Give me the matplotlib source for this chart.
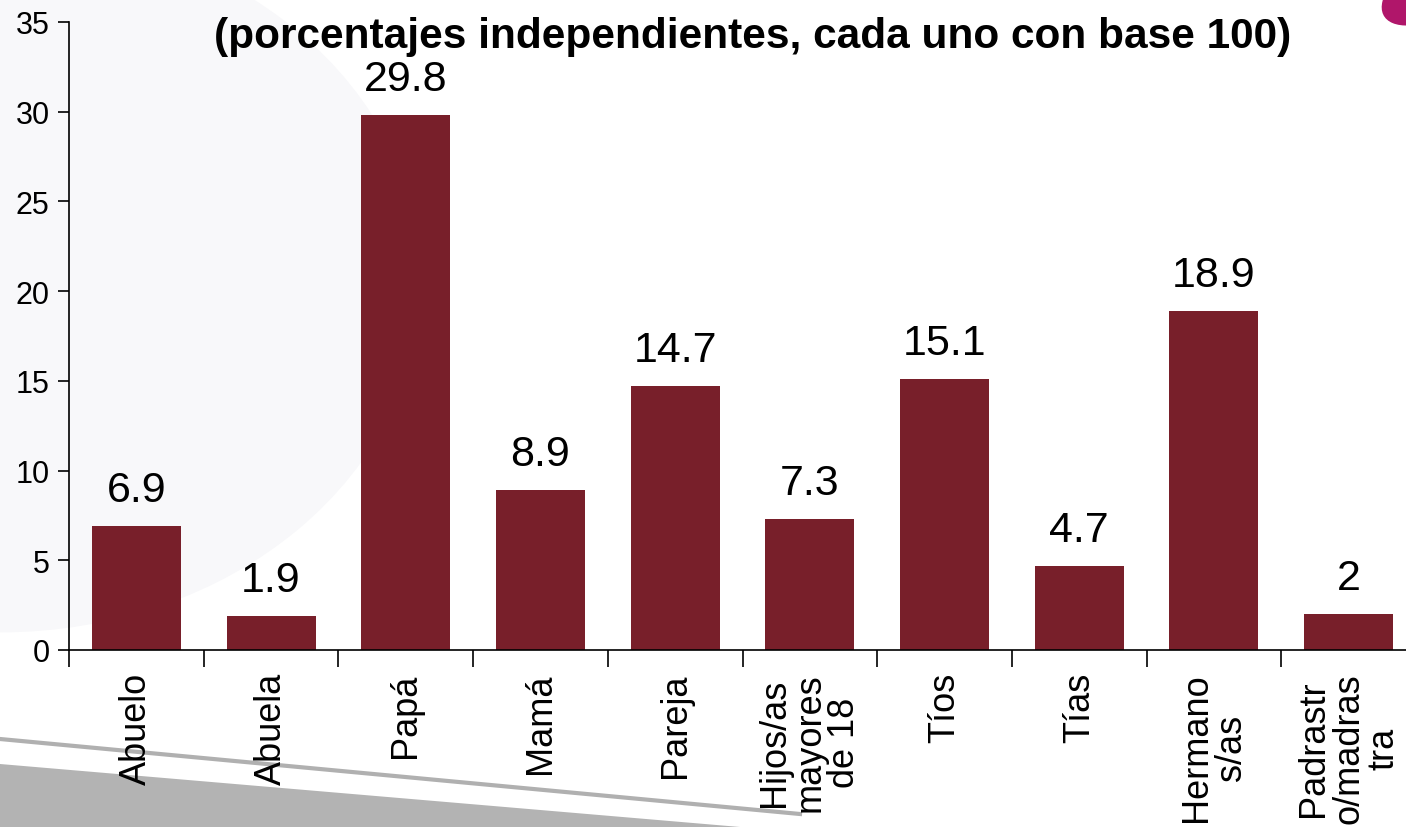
import matplotlib
matplotlib.use('Agg')
import matplotlib.pyplot as plt
from matplotlib.patches import Polygon, Ellipse

categories = ['Abuelo', 'Abuela', 'Papá', 'Mamá', 'Pareja',
              'Hijos/as\nmayores\nde 18', 'Tíos', 'Tías',
              'Hermano\ns/as', 'Padrastr\no/madras\ntra']
values = [6.9, 1.9, 29.8, 8.9, 14.7, 7.3, 15.1, 4.7, 18.9, 2]
value_labels = ['6.9', '1.9', '29.8', '8.9', '14.7', '7.3', '15.1', '4.7', '18.9', '2']
title = '(porcentajes independientes, cada uno con base 100)'

BAR_COLOR = '#781f2a'

plt.rcParams['font.family'] = ['Liberation Sans', 'DejaVu Sans']

fig = plt.figure(figsize=(14.06, 8.28), dpi=100)
fig.patch.set_facecolor('white')

# slide background decorations
fig.patches.append(Ellipse((0.0, 0.66), 0.6, 0.85, transform=fig.transFigure,
                           facecolor='#f8f8fa', edgecolor='none', zorder=0))
fig.patches.append(Polygon([(0, 1 - 765 / 828), (740 / 1406, 0), (0, 0)],
                           closed=True, transform=fig.transFigure,
                           facecolor='#b3b3b3', edgecolor='none', zorder=0))
fig.lines.append(plt.Line2D([0, 800 / 1406], [1 - 740 / 828, 1 - 815 / 828],
                            transform=fig.transFigure, color='#b0b0b0', lw=3, zorder=0))
fig.patches.append(Ellipse((1.025, 1.02), 0.06, 0.12, angle=-35, transform=fig.transFigure,
                           facecolor='#b0166a', edgecolor='none', zorder=0))

ax = fig.add_axes([69 / 1406, 1 - 651 / 828, 1347 / 1406, 628 / 828])
ax.set_facecolor('none')
ax.set_zorder(5)

x = range(len(categories))
ax.bar(x, values, width=0.66, color=BAR_COLOR, zorder=2)

for xi, v, lab in zip(x, values, value_labels):
    ax.text(xi, v + 0.9, lab, ha='center', va='bottom', fontsize=31, color='black')

ax.set_xlim(-0.5, len(categories) - 0.5)
ax.set_ylim(0, 35)
ax.set_yticks(range(0, 36, 5))
ax.set_xticks([i - 0.5 for i in range(len(categories))])
ax.set_xticklabels([])
ax.set_xticks(list(x), minor=True)
ax.set_xticklabels(categories, minor=True, rotation=90, fontsize=26,
                   ha='center', va='top', multialignment='center', linespacing=1.0)
ax.tick_params(axis='x', which='minor', length=0, pad=16)
ax.tick_params(axis='x', which='major', length=12, direction='out', width=1.2)
ax.tick_params(axis='y', length=8, direction='out', labelsize=22, width=1.2, pad=6)

for side in ['top', 'right']:
    ax.spines[side].set_visible(False)
ax.spines['left'].set_linewidth(1.2)
ax.spines['bottom'].set_linewidth(1.2)

fig.text(753 / 1406, 1 - 37 / 828, title, ha='center', va='center',
         fontsize=30.5, fontweight='bold', color='black')

fig.savefig('out.png', dpi=100)
